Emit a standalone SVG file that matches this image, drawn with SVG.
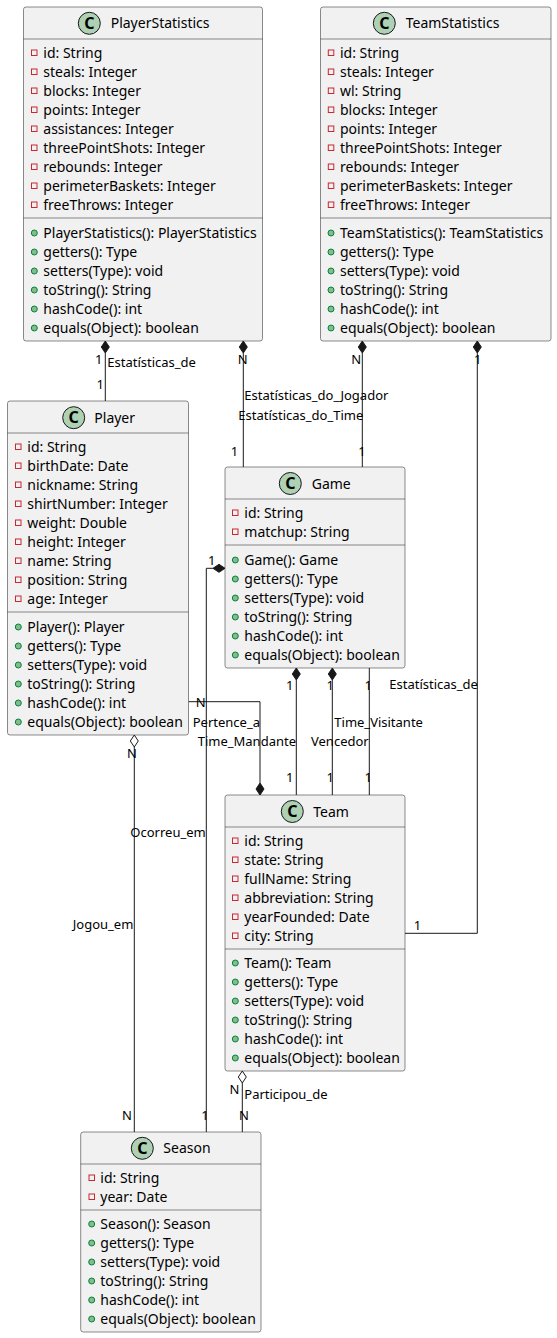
<svg xmlns="http://www.w3.org/2000/svg" width="557" height="1338" viewBox="0 0 557 1338">
<style>
.box{fill:#F1F1F1;stroke:#181818;stroke-width:0.5}
.sep{stroke:#181818;stroke-width:0.5;fill:none}
.t{font-family:"Noto Sans","Open Sans",sans-serif;font-size:14px;fill:#000}
.l{font-family:"Noto Sans","Open Sans",sans-serif;font-size:13px;fill:#000}
.ic{fill:#ADD1B2;stroke:#181818;stroke-width:1}
.cc{font-family:"Noto Sans","Open Sans",sans-serif;font-size:16px;font-weight:bold;fill:#000;text-anchor:middle}
.pv{fill:none;stroke:#C82930;stroke-width:1}
.pb{fill:#84BE84;stroke:#038048;stroke-width:1}
.ln{fill:none;stroke:#181818;stroke-width:1}
.fd{fill:#181818;stroke:#181818;stroke-width:1}
.od{fill:#FFFFFF;stroke:#181818;stroke-width:1}
.e{text-anchor:end}
.m{text-anchor:middle}
</style>
<g id="connectors">
  <!-- PlayerStatistics - Player -->
  <path class="ln" d="M105.3,353 V401"/>
  <polygon class="fd" points="105.3,341 101.3,347 105.3,353 109.3,347"/>
  <text class="l e" x="102.5" y="363.5">1</text>
  <text class="l" x="107.3" y="367">Estatísticas_de</text>
  <text class="l e" x="104" y="388.5">1</text>
  <!-- PlayerStatistics - Game -->
  <path class="ln" d="M243.3,353 V467"/>
  <polygon class="fd" points="243.3,341 239.3,347 243.3,353 247.3,347"/>
  <text class="l m" x="242.8" y="363.5">N</text>
  <text class="l" x="244.3" y="400">Estatísticas_do_Jogador</text>
  <text class="l m" x="234.5" y="456">1</text>
  <!-- TeamStatistics - Game -->
  <path class="ln" d="M362.3,353 V467"/>
  <polygon class="fd" points="362.3,341 358.3,347 362.3,353 366.3,347"/>
  <text class="l m" x="356.2" y="363.5">N</text>
  <text class="l" x="238.3" y="419.5">Estatísticas_do_Time</text>
  <text class="l m" x="362" y="456">1</text>
  <!-- TeamStatistics - Team -->
  <path class="ln" d="M477.3,353 V933.3 H405"/>
  <polygon class="fd" points="477.3,341 473.3,347 477.3,353 481.3,347"/>
  <text class="l m" x="477.7" y="363.5">1</text>
  <text class="l" x="389.3" y="689">Estatísticas_de</text>
  <text class="l m" x="417.5" y="930">1</text>
  <!-- Game - Team Time_Mandante -->
  <path class="ln" d="M296.3,680 V795"/>
  <polygon class="fd" points="296.3,668 292.3,674 296.3,680 300.3,674"/>
  <text class="l e" x="293.5" y="690">1</text>
  <text class="l e" x="296" y="745.5">Time_Mandante</text>
  <text class="l e" x="293.5" y="782">1</text>
  <!-- Game - Team Vencedor -->
  <path class="ln" d="M332.3,680 V795"/>
  <polygon class="fd" points="332.3,668 328.3,674 332.3,680 336.3,674"/>
  <text class="l m" x="330.3" y="690">1</text>
  <text class="l" x="311" y="745.5">Vencedor</text>
  <text class="l m" x="330.3" y="782">1</text>
  <!-- Game - Team Time_Visitante -->
  <path class="ln" d="M369.3,668 V795"/>
  <text class="l m" x="368.2" y="690">1</text>
  <text class="l" x="334.3" y="726.8">Time_Visitante</text>
  <text class="l m" x="368.2" y="782">1</text>
  <!-- Player - Team Pertence_a -->
  <path class="ln" d="M188.5,701.7 H260 V783"/>
  <polygon class="fd" points="260,795 256,789 260,783 264,789"/>
  <text class="l m" x="200.8" y="707">N</text>
  <text class="l" x="192.7" y="726.8">Pertence_a</text>
  <!-- Game - Season Ocorreu_em -->
  <path class="ln" d="M213,568.3 H206.3 V1132"/>
  <polygon class="fd" points="225,568.3 219,564.3 213,568.3 219,572.3"/>
  <text class="l m" x="211.8" y="564.5">1</text>
  <text class="l e" x="205.7" y="836.8">Ocorreu_em</text>
  <text class="l m" x="205" y="1119.5">1</text>
  <!-- Player - Season Jogou_em -->
  <path class="ln" d="M134.3,747 V1132"/>
  <polygon class="od" points="134.3,735 130.3,741 134.3,747 138.3,741"/>
  <text class="l m" x="132" y="757.5">N</text>
  <text class="l e" x="133.3" y="928.8">Jogou_em</text>
  <text class="l m" x="127" y="1119.5">N</text>
  <!-- Team - Season Participou_de -->
  <path class="ln" d="M242.3,1083 V1132"/>
  <polygon class="od" points="242.3,1071 238.3,1077 242.3,1083 246.3,1077"/>
  <text class="l m" x="234.5" y="1093.8">N</text>
  <text class="l" x="244.3" y="1098.5">Participou_de</text>
  <text class="l m" x="244" y="1119.5">N</text>
</g>
<g id="PlayerStatistics">
  <rect class="box" x="23.5" y="7" width="239" height="334" rx="2.5"/>
  <path class="sep" d="M23.5,39 H262.5 M23.5,218 H262.5"/>
  <circle class="ic" cx="89.3" cy="23.3" r="11"/>
  <text class="cc" x="89.3" y="29">C</text>
  <text class="t" x="110.7" y="28.3">PlayerStatistics</text>
  <g>
    <rect class="pv" x="31.5" y="50" width="5.5" height="5.5"/>
    <rect class="pv" x="31.5" y="69" width="5.5" height="5.5"/>
    <rect class="pv" x="31.5" y="88" width="5.5" height="5.5"/>
    <rect class="pv" x="31.5" y="107" width="5.5" height="5.5"/>
    <rect class="pv" x="31.5" y="126" width="5.5" height="5.5"/>
    <rect class="pv" x="31.5" y="145" width="5.5" height="5.5"/>
    <rect class="pv" x="31.5" y="164" width="5.5" height="5.5"/>
    <rect class="pv" x="31.5" y="183" width="5.5" height="5.5"/>
    <rect class="pv" x="31.5" y="202" width="5.5" height="5.5"/>
    <circle class="pb" cx="34.3" cy="233" r="3"/>
    <circle class="pb" cx="34.3" cy="252" r="3"/>
    <circle class="pb" cx="34.3" cy="271" r="3"/>
    <circle class="pb" cx="34.3" cy="290" r="3"/>
    <circle class="pb" cx="34.3" cy="309" r="3"/>
    <circle class="pb" cx="34.3" cy="328" r="3"/>
  </g>
  <text class="t" x="43.3" y="58">id: String</text>
  <text class="t" x="43.3" y="77">steals: Integer</text>
  <text class="t" x="43.3" y="96">blocks: Integer</text>
  <text class="t" x="43.3" y="115">points: Integer</text>
  <text class="t" x="43.3" y="134">assistances: Integer</text>
  <text class="t" x="43.3" y="153">threePointShots: Integer</text>
  <text class="t" x="43.3" y="172">rebounds: Integer</text>
  <text class="t" x="43.3" y="191">perimeterBaskets: Integer</text>
  <text class="t" x="43.3" y="210">freeThrows: Integer</text>
  <text class="t" x="43.3" y="238">PlayerStatistics(): PlayerStatistics</text>
  <text class="t" x="43.3" y="257">getters(): Type</text>
  <text class="t" x="43.3" y="276">setters(Type): void</text>
  <text class="t" x="43.3" y="295">toString(): String</text>
  <text class="t" x="43.3" y="314">hashCode(): int</text>
  <text class="t" x="43.3" y="333">equals(Object): boolean</text>
</g>
<g id="TeamStatistics">
  <rect class="box" x="320.5" y="7" width="230.5" height="334" rx="2.5"/>
  <path class="sep" d="M320.5,39 H551 M320.5,218 H551"/>
  <circle class="ic" cx="384.3" cy="23.3" r="11"/>
  <text class="cc" x="384.3" y="29">C</text>
  <text class="t" x="405.7" y="28.3">TeamStatistics</text>
  <g>
    <rect class="pv" x="328.3" y="50" width="5.5" height="5.5"/>
    <rect class="pv" x="328.3" y="69" width="5.5" height="5.5"/>
    <rect class="pv" x="328.3" y="88" width="5.5" height="5.5"/>
    <rect class="pv" x="328.3" y="107" width="5.5" height="5.5"/>
    <rect class="pv" x="328.3" y="126" width="5.5" height="5.5"/>
    <rect class="pv" x="328.3" y="145" width="5.5" height="5.5"/>
    <rect class="pv" x="328.3" y="164" width="5.5" height="5.5"/>
    <rect class="pv" x="328.3" y="183" width="5.5" height="5.5"/>
    <rect class="pv" x="328.3" y="202" width="5.5" height="5.5"/>
    <circle class="pb" cx="331" cy="233" r="3"/>
    <circle class="pb" cx="331" cy="252" r="3"/>
    <circle class="pb" cx="331" cy="271" r="3"/>
    <circle class="pb" cx="331" cy="290" r="3"/>
    <circle class="pb" cx="331" cy="309" r="3"/>
    <circle class="pb" cx="331" cy="328" r="3"/>
  </g>
  <text class="t" x="340" y="58">id: String</text>
  <text class="t" x="340" y="77">steals: Integer</text>
  <text class="t" x="340" y="96">wl: String</text>
  <text class="t" x="340" y="115">blocks: Integer</text>
  <text class="t" x="340" y="134">points: Integer</text>
  <text class="t" x="340" y="153">threePointShots: Integer</text>
  <text class="t" x="340" y="172">rebounds: Integer</text>
  <text class="t" x="340" y="191">perimeterBaskets: Integer</text>
  <text class="t" x="340" y="210">freeThrows: Integer</text>
  <text class="t" x="340" y="238">TeamStatistics(): TeamStatistics</text>
  <text class="t" x="340" y="257">getters(): Type</text>
  <text class="t" x="340" y="276">setters(Type): void</text>
  <text class="t" x="340" y="295">toString(): String</text>
  <text class="t" x="340" y="314">hashCode(): int</text>
  <text class="t" x="340" y="333">equals(Object): boolean</text>
</g>
<g id="Player">
  <rect class="box" x="7.5" y="401" width="181" height="334" rx="2.5"/>
  <path class="sep" d="M7.5,433 H188.5 M7.5,612 H188.5"/>
  <circle class="ic" cx="73.7" cy="417.7" r="11"/>
  <text class="cc" x="73.7" y="423.4">C</text>
  <text class="t" x="94.3" y="422.7">Player</text>
  <g>
    <rect class="pv" x="15.5" y="444" width="5.5" height="5.5"/>
    <rect class="pv" x="15.5" y="463" width="5.5" height="5.5"/>
    <rect class="pv" x="15.5" y="482" width="5.5" height="5.5"/>
    <rect class="pv" x="15.5" y="501" width="5.5" height="5.5"/>
    <rect class="pv" x="15.5" y="520" width="5.5" height="5.5"/>
    <rect class="pv" x="15.5" y="539" width="5.5" height="5.5"/>
    <rect class="pv" x="15.5" y="558" width="5.5" height="5.5"/>
    <rect class="pv" x="15.5" y="577" width="5.5" height="5.5"/>
    <rect class="pv" x="15.5" y="596" width="5.5" height="5.5"/>
    <circle class="pb" cx="18.3" cy="627" r="3"/>
    <circle class="pb" cx="18.3" cy="646" r="3"/>
    <circle class="pb" cx="18.3" cy="665" r="3"/>
    <circle class="pb" cx="18.3" cy="684" r="3"/>
    <circle class="pb" cx="18.3" cy="703" r="3"/>
    <circle class="pb" cx="18.3" cy="722" r="3"/>
  </g>
  <text class="t" x="27.3" y="452">id: String</text>
  <text class="t" x="27.3" y="471">birthDate: Date</text>
  <text class="t" x="27.3" y="490">nickname: String</text>
  <text class="t" x="27.3" y="509">shirtNumber: Integer</text>
  <text class="t" x="27.3" y="528">weight: Double</text>
  <text class="t" x="27.3" y="547">height: Integer</text>
  <text class="t" x="27.3" y="566">name: String</text>
  <text class="t" x="27.3" y="585">position: String</text>
  <text class="t" x="27.3" y="604">age: Integer</text>
  <text class="t" x="27.3" y="632">Player(): Player</text>
  <text class="t" x="27.3" y="651">getters(): Type</text>
  <text class="t" x="27.3" y="670">setters(Type): void</text>
  <text class="t" x="27.3" y="689">toString(): String</text>
  <text class="t" x="27.3" y="708">hashCode(): int</text>
  <text class="t" x="27.3" y="727">equals(Object): boolean</text>
</g>
<g id="Game">
  <rect class="box" x="225" y="467" width="180" height="201" rx="2.5"/>
  <path class="sep" d="M225,499 H405 M225,545 H405"/>
  <circle class="ic" cx="290.3" cy="483.5" r="11"/>
  <text class="cc" x="290.3" y="489.2">C</text>
  <text class="t" x="311.7" y="488.5">Game</text>
  <rect class="pv" x="232.5" y="510" width="5.5" height="5.5"/>
  <rect class="pv" x="232.5" y="529" width="5.5" height="5.5"/>
  <circle class="pb" cx="235.3" cy="560" r="3"/>
  <circle class="pb" cx="235.3" cy="579" r="3"/>
  <circle class="pb" cx="235.3" cy="598" r="3"/>
  <circle class="pb" cx="235.3" cy="617" r="3"/>
  <circle class="pb" cx="235.3" cy="636" r="3"/>
  <circle class="pb" cx="235.3" cy="655" r="3"/>
  <text class="t" x="244.3" y="518">id: String</text>
  <text class="t" x="244.3" y="537">matchup: String</text>
  <text class="t" x="244.3" y="565">Game(): Game</text>
  <text class="t" x="244.3" y="584">getters(): Type</text>
  <text class="t" x="244.3" y="603">setters(Type): void</text>
  <text class="t" x="244.3" y="622">toString(): String</text>
  <text class="t" x="244.3" y="641">hashCode(): int</text>
  <text class="t" x="244.3" y="660">equals(Object): boolean</text>
</g>
<g id="Team">
  <rect class="box" x="225" y="795" width="180" height="276" rx="2.5"/>
  <path class="sep" d="M225,827 H405 M225,949 H405"/>
  <circle class="ic" cx="292.3" cy="811.5" r="11"/>
  <text class="cc" x="292.3" y="817.2">C</text>
  <text class="t" x="313.3" y="816.5">Team</text>
  <rect class="pv" x="232.5" y="838" width="5.5" height="5.5"/>
  <rect class="pv" x="232.5" y="857" width="5.5" height="5.5"/>
  <rect class="pv" x="232.5" y="876" width="5.5" height="5.5"/>
  <rect class="pv" x="232.5" y="895" width="5.5" height="5.5"/>
  <rect class="pv" x="232.5" y="914" width="5.5" height="5.5"/>
  <rect class="pv" x="232.5" y="933" width="5.5" height="5.5"/>
  <circle class="pb" cx="235.3" cy="963" r="3"/>
  <circle class="pb" cx="235.3" cy="982" r="3"/>
  <circle class="pb" cx="235.3" cy="1001" r="3"/>
  <circle class="pb" cx="235.3" cy="1020" r="3"/>
  <circle class="pb" cx="235.3" cy="1039" r="3"/>
  <circle class="pb" cx="235.3" cy="1058" r="3"/>
  <text class="t" x="244.3" y="846">id: String</text>
  <text class="t" x="244.3" y="865">state: String</text>
  <text class="t" x="244.3" y="884">fullName: String</text>
  <text class="t" x="244.3" y="903">abbreviation: String</text>
  <text class="t" x="244.3" y="922">yearFounded: Date</text>
  <text class="t" x="244.3" y="941">city: String</text>
  <text class="t" x="244.3" y="968">Team(): Team</text>
  <text class="t" x="244.3" y="987">getters(): Type</text>
  <text class="t" x="244.3" y="1006">setters(Type): void</text>
  <text class="t" x="244.3" y="1025">toString(): String</text>
  <text class="t" x="244.3" y="1044">hashCode(): int</text>
  <text class="t" x="244.3" y="1063">equals(Object): boolean</text>
</g>
<g id="Season">
  <rect class="box" x="80.7" y="1132" width="180.3" height="200" rx="2.5"/>
  <path class="sep" d="M80.7,1164 H261 M80.7,1210 H261"/>
  <circle class="ic" cx="142.3" cy="1148.3" r="11"/>
  <text class="cc" x="142.3" y="1154">C</text>
  <text class="t" x="163.3" y="1153.3">Season</text>
  <rect class="pv" x="89" y="1175" width="5.5" height="5.5"/>
  <rect class="pv" x="89" y="1194" width="5.5" height="5.5"/>
  <circle class="pb" cx="91.7" cy="1224" r="3"/>
  <circle class="pb" cx="91.7" cy="1243" r="3"/>
  <circle class="pb" cx="91.7" cy="1262" r="3"/>
  <circle class="pb" cx="91.7" cy="1281" r="3"/>
  <circle class="pb" cx="91.7" cy="1300" r="3"/>
  <circle class="pb" cx="91.7" cy="1319" r="3"/>
  <text class="t" x="100.3" y="1183">id: String</text>
  <text class="t" x="100.3" y="1202">year: Date</text>
  <text class="t" x="100.3" y="1229">Season(): Season</text>
  <text class="t" x="100.3" y="1248">getters(): Type</text>
  <text class="t" x="100.3" y="1267">setters(Type): void</text>
  <text class="t" x="100.3" y="1286">toString(): String</text>
  <text class="t" x="100.3" y="1305">hashCode(): int</text>
  <text class="t" x="100.3" y="1324">equals(Object): boolean</text>
</g>
</svg>
